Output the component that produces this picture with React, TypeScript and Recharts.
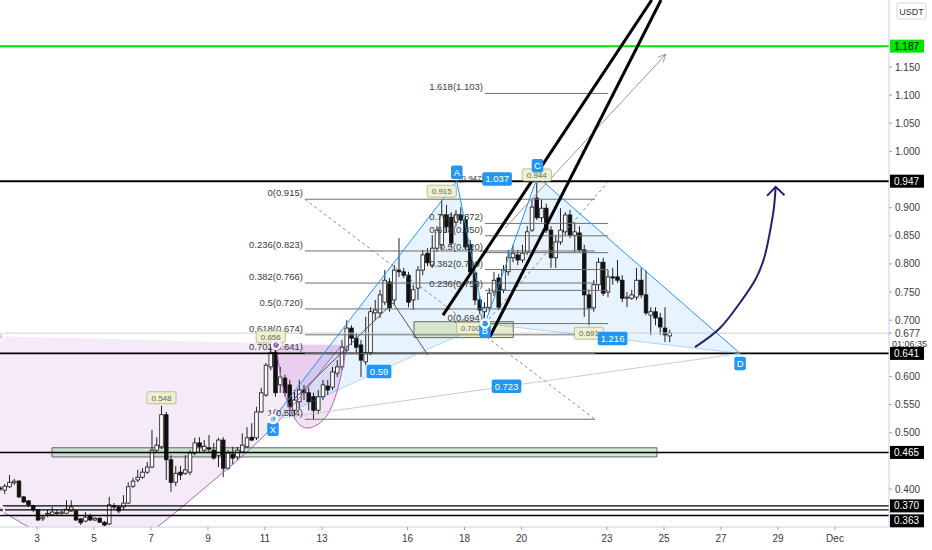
import React from 'react';
import {
  ComposedChart,
  Bar,
  Line,
  Area,
  XAxis,
  YAxis,
  ReferenceLine,
  ReferenceArea,
  ReferenceDot,
} from 'recharts';

const W = 932;
const H = 550;
const FONT = '"Liberation Sans", Arial, sans-serif';
const AXIS = '#c3d1e6';

// visible window (days of November) and price range
const T_MIN = 1.702;
const T_MAX = 32.895;
const P_MIN = 0.3325;
const P_MAX = 1.269;

const dayTicks = [3, 5, 7, 9, 11, 13, 16, 18, 20, 23, 25, 27, 29, 31];
const priceTicks = [0.4, 0.5, 0.55, 0.6, 0.7, 0.75, 0.8, 0.85, 0.9, 1.0, 1.05, 1.1, 1.15];

// 4h candles: [open, high, low, close]
const FIRST_CANDLE = 1.702;
const CANDLE_STEP = 1 / 6;
const candles: number[][] = [
  [0.402, 0.405, 0.396, 0.400], [0.398, 0.409, 0.391, 0.405], [0.404, 0.425, 0.402, 0.412], [0.411, 0.418, 0.407, 0.414],
  [0.414, 0.416, 0.384, 0.386], [0.386, 0.388, 0.375, 0.377], [0.379, 0.380, 0.368, 0.372], [0.370, 0.372, 0.359, 0.363],
  [0.363, 0.364, 0.343, 0.345], [0.347, 0.354, 0.343, 0.350], [0.356, 0.363, 0.350, 0.357], [0.354, 0.368, 0.352, 0.359],
  [0.357, 0.363, 0.352, 0.358], [0.357, 0.361, 0.354, 0.359], [0.357, 0.380, 0.356, 0.364], [0.361, 0.380, 0.359, 0.368],
  [0.361, 0.363, 0.343, 0.345], [0.347, 0.348, 0.336, 0.340], [0.343, 0.359, 0.341, 0.350], [0.352, 0.356, 0.343, 0.345],
  [0.345, 0.350, 0.343, 0.348], [0.348, 0.350, 0.340, 0.341], [0.341, 0.343, 0.334, 0.336], [0.338, 0.386, 0.336, 0.372],
  [0.370, 0.375, 0.364, 0.368], [0.368, 0.370, 0.357, 0.361], [0.368, 0.389, 0.364, 0.375], [0.375, 0.412, 0.373, 0.404],
  [0.405, 0.420, 0.402, 0.414], [0.416, 0.434, 0.412, 0.421], [0.421, 0.437, 0.418, 0.430], [0.430, 0.448, 0.427, 0.439],
  [0.439, 0.505, 0.437, 0.469], [0.469, 0.492, 0.466, 0.478], [0.475, 0.548, 0.471, 0.532], [0.532, 0.537, 0.416, 0.452],
  [0.452, 0.460, 0.395, 0.412], [0.412, 0.441, 0.405, 0.428], [0.430, 0.441, 0.416, 0.425], [0.428, 0.460, 0.425, 0.434],
  [0.430, 0.469, 0.425, 0.464], [0.464, 0.491, 0.460, 0.482], [0.482, 0.492, 0.464, 0.475], [0.469, 0.487, 0.464, 0.476],
  [0.473, 0.496, 0.466, 0.471], [0.469, 0.482, 0.452, 0.455], [0.460, 0.491, 0.439, 0.487], [0.487, 0.492, 0.421, 0.437],
  [0.437, 0.469, 0.434, 0.464], [0.462, 0.475, 0.443, 0.455], [0.457, 0.475, 0.452, 0.469], [0.466, 0.499, 0.464, 0.478],
  [0.475, 0.510, 0.473, 0.491], [0.492, 0.517, 0.485, 0.487], [0.491, 0.546, 0.487, 0.537], [0.537, 0.580, 0.535, 0.571],
  [0.567, 0.624, 0.564, 0.620], [0.617, 0.656, 0.611, 0.643], [0.643, 0.652, 0.564, 0.571], [0.585, 0.617, 0.571, 0.599],
  [0.597, 0.603, 0.564, 0.571], [0.585, 0.594, 0.528, 0.546], [0.540, 0.576, 0.526, 0.558], [0.555, 0.594, 0.540, 0.576],
  [0.576, 0.585, 0.558, 0.571], [0.571, 0.580, 0.540, 0.555], [0.564, 0.571, 0.524, 0.540], [0.540, 0.576, 0.533, 0.564],
  [0.564, 0.594, 0.558, 0.585], [0.583, 0.594, 0.567, 0.576], [0.581, 0.617, 0.576, 0.608], [0.606, 0.629, 0.599, 0.617],
  [0.617, 0.665, 0.611, 0.652], [0.647, 0.700, 0.643, 0.686], [0.686, 0.691, 0.656, 0.668], [0.668, 0.677, 0.643, 0.652],
  [0.656, 0.665, 0.599, 0.629], [0.626, 0.706, 0.620, 0.642], [0.642, 0.723, 0.638, 0.715], [0.713, 0.736, 0.700, 0.718],
  [0.713, 0.754, 0.704, 0.745], [0.732, 0.789, 0.727, 0.771], [0.768, 0.775, 0.715, 0.722], [0.736, 0.798, 0.727, 0.789],
  [0.789, 0.846, 0.777, 0.786], [0.786, 0.793, 0.775, 0.780], [0.780, 0.786, 0.723, 0.732], [0.736, 0.763, 0.718, 0.754],
  [0.757, 0.796, 0.736, 0.789], [0.789, 0.825, 0.780, 0.816], [0.819, 0.828, 0.796, 0.802], [0.798, 0.851, 0.793, 0.828],
  [0.828, 0.867, 0.821, 0.860], [0.834, 0.915, 0.825, 0.887], [0.887, 0.905, 0.857, 0.866], [0.883, 0.892, 0.830, 0.837],
  [0.874, 0.896, 0.867, 0.887], [0.887, 0.901, 0.871, 0.878], [0.878, 0.885, 0.825, 0.830], [0.834, 0.843, 0.779, 0.786],
  [0.784, 0.789, 0.727, 0.736], [0.736, 0.743, 0.711, 0.718], [0.715, 0.732, 0.700, 0.723], [0.723, 0.757, 0.715, 0.748],
  [0.750, 0.786, 0.743, 0.771], [0.775, 0.782, 0.718, 0.723], [0.754, 0.798, 0.748, 0.789], [0.786, 0.825, 0.779, 0.812],
  [0.811, 0.834, 0.803, 0.819], [0.816, 0.825, 0.798, 0.807], [0.807, 0.834, 0.802, 0.819], [0.821, 0.867, 0.816, 0.857],
  [0.860, 0.914, 0.857, 0.901], [0.917, 0.944, 0.878, 0.882], [0.882, 0.914, 0.874, 0.899], [0.899, 0.907, 0.855, 0.860],
  [0.860, 0.867, 0.793, 0.811], [0.811, 0.851, 0.793, 0.839], [0.839, 0.899, 0.834, 0.860], [0.857, 0.892, 0.851, 0.887],
  [0.887, 0.896, 0.846, 0.851], [0.851, 0.874, 0.821, 0.857], [0.855, 0.867, 0.821, 0.825], [0.825, 0.834, 0.706, 0.745],
  [0.745, 0.754, 0.691, 0.722], [0.722, 0.771, 0.715, 0.763], [0.763, 0.811, 0.754, 0.803], [0.803, 0.811, 0.743, 0.748],
  [0.750, 0.789, 0.741, 0.777], [0.777, 0.793, 0.763, 0.775], [0.777, 0.807, 0.766, 0.771], [0.771, 0.780, 0.732, 0.739],
  [0.739, 0.750, 0.723, 0.741], [0.739, 0.754, 0.736, 0.745], [0.741, 0.793, 0.736, 0.771], [0.771, 0.793, 0.739, 0.745],
  [0.745, 0.789, 0.709, 0.713], [0.709, 0.723, 0.674, 0.715], [0.715, 0.723, 0.691, 0.704], [0.704, 0.713, 0.674, 0.688],
  [0.686, 0.723, 0.661, 0.674], [0.672, 0.683, 0.661, 0.677],
];
const LAST_PRICE = 0.677;

// XABCD harmonic pattern
const patternNames = ['X', 'A', 'B', 'C', 'D'];
const patternTimes = [11.28, 17.73, 18.72, 20.56, 27.67];
const patternPrices = [0.524, 0.947, 0.694, 0.955, 0.641];
const patternTagShift = [10, -9, 7, -11, 10];
const ratioLegs = [['X', 'B', '0.59'], ['A', 'C', '1.037'], ['B', 'D', '1.216'], ['X', 'D', '0.723']];

// fibonacci retracements
const fibOneLevels = [0.915, 0.823, 0.766, 0.72, 0.674, 0.641, 0.524];
const fibOneNames = ['0', '0.236', '0.382', '0.5', '0.618', '0.702', '1'];
const fibOneSpan = [12.4, 22.58];
const fibTwoLevels = [1.103, 0.872, 0.85, 0.82, 0.79, 0.753, 0.694];
const fibTwoNames = ['1.618', '0.702', '0.618', '0.5', '0.382', '0.236', '0'];
const fibTwoSpan = [18.72, 23.04];

// horizontal levels
const levelPrices = [1.187, 0.947, 0.641, 0.465, 0.37, 0.363, 0.353];
const levelColors = ['#00e600', '#000', '#000', '#000', '#000', '#000', '#000'];
const levelWidths = [2, 2, 1.6, 1.6, 1.4, 1.4, 1.4];
const axisTagPrices = [1.187, 0.947, 0.641, 0.465, 0.37, 0.363];
const axisTagShift = [0, 0, 0, 0, 0, 11];

// boxes
const zoneStart = [3.526, 16.228];
const zoneEnd = [24.754, 19.712];
const zoneLow = [0.457, 0.669];
const zoneHigh = [0.4733, 0.6973];
const zoneFill = ['rgba(120,200,120,0.35)', 'rgba(190,210,120,0.4)'];

// trend lines
const thickLines = [
  [[17.246, 0.709], [24.57, 1.269]],
  [[18.895, 0.671], [24.895, 1.269]],
];
const thinLines = [
  [[11.877, 0.553], [15.491, 0.731]],
  [[15.491, 0.731], [16.719, 0.638]],
];
const thinArrow = [[19.42, 0.864], [25.07, 1.173]];
const thinArrowHead = [[24.786, 1.167], [25.07, 1.173], [24.968, 1.158]];

// arcs
const bigArcTimes = [1.702, 2.754, 3.807, 5.211, 6.263, 7.07, 8.719, 10.123, 11.175, 12.228, 13.105, 13.702];
const bigArcLows = [0.363, 0.331, 0.309, 0.3, 0.309, 0.327, 0.395, 0.455, 0.505, 0.563, 0.619, 0.656];
const bigArcTops = [0.672, 0.67, 0.669, 0.667, 0.666, 0.665, 0.662, 0.661, 0.659, 0.658, 0.657, 0.656];
const smallArcTimes = [11.386, 11.632, 11.947, 12.333, 12.825, 13.281, 13.632, 13.877];
const smallArcLows = [0.656, 0.581, 0.535, 0.51, 0.514, 0.54, 0.594, 0.656];
const smallArcTops = [0.656, 0.656, 0.656, 0.656, 0.656, 0.656, 0.656, 0.656];

// projected move arrow
const arrowTimes = [26.088, 26.965, 27.667, 28.193, 28.544, 28.754, 28.86, 28.919];
const arrowPrices = [0.652, 0.686, 0.731, 0.771, 0.816, 0.867, 0.901, 0.937];
const arrowHeadTimes = [28.614, 28.919, 29.228];
const arrowHeadPrices = [0.921, 0.937, 0.922];

// high / low price tags (candle index, side)
const priceTagCandles = [34, 57, 93, 113, 102, 124];
const priceTagSide = ['h', 'h', 'h', 'h', 'l', 'l'];
const priceTagNudge = [0, 0, 0, 0, -14, 0];

const candleRows = candles.map(([o, h, l, c], i) => ({
  t: FIRST_CANDLE + i * CANDLE_STEP,
  o, h, l, c,
  range: [l, h],
}));

const pt = (name: string) => {
  const i = patternNames.indexOf(name);
  return { t: patternTimes[i], p: patternPrices[i] };
};
const lineAt = (a: any, b: any, t: number) => a.p + ((b.p - a.p) * (t - a.t)) / (b.t - a.t);
const triangle = (a: any, b: any, c: any) => [
  { t: a.t, r: [a.p, a.p] },
  { t: b.t, r: [lineAt(a, c, b.t), b.p] },
  { t: c.t, r: [c.p, c.p] },
];

const xabArea = triangle(pt('X'), pt('A'), pt('B'));
const bcdArea = triangle(pt('B'), pt('C'), pt('D'));
const bigArcArea = bigArcTimes.map((t, i) => ({ t, r: [bigArcLows[i], bigArcTops[i]], p: bigArcLows[i] }));
const smallArcArea = smallArcTimes.map((t, i) => ({ t, r: [smallArcLows[i], smallArcTops[i]], p: smallArcLows[i] }));
const arrowData = arrowTimes.map((t, i) => ({ t, p: arrowPrices[i] }));
const arrowHeadData = arrowHeadTimes.map((t, i) => ({ t, p: arrowHeadPrices[i] }));
const thinHeadData = thinArrowHead.map(([t, p]) => ({ t, p }));

const Candle = (props: any) => {
  const { x, y, width, height, payload } = props;
  if (!payload) return null;
  const { o, h, l, c } = payload;
  const top = Math.min(y, y + height);
  const bot = Math.max(y, y + height);
  const ppu = (bot - top) / (h - l || 1);
  const yo = top + (h - o) * ppu;
  const yc = top + (h - c) * ppu;
  const cx = x + width / 2;
  const up = c >= o;
  const bt = Math.min(yo, yc);
  const bh = Math.max(1, Math.abs(yo - yc));
  return (
    <g>
      <line x1={cx} x2={cx} y1={top} y2={bot} stroke="#222" strokeWidth={1} />
      <rect x={cx - 1.8} y={bt} width={3.6} height={bh} fill={up ? '#fff' : '#111'} stroke="#111" strokeWidth={0.8} />
    </g>
  );
};

const Tag = ({ cx, cy, text, bg, fg, fs = 10, border, k = 0.58, pad = 6 }: any) => {
  const w = text.length * fs * k + pad;
  const h = fs + 4;
  return (
    <g>
      <rect x={cx - w / 2} y={cy - h / 2} width={w} height={h} rx={2} fill={bg} stroke={border || 'none'} strokeWidth={0.8} />
      <text x={cx} y={cy + fs * 0.36} textAnchor="middle" fontSize={fs} fill={fg} fontFamily={FONT}>
        {text}
      </text>
    </g>
  );
};

const seg = (a: number[], b: number[]) => [{ x: a[0], y: a[1] }, { x: b[0], y: b[1] }];

export default function App() {
  const tick = { fontSize: 10, fill: '#3a3a3a', fontFamily: FONT };
  return (
    <div style={{ width: W, height: H, background: '#fff' }}>
      <style>{'body{margin:0}'}</style>
      <ComposedChart width={W} height={H} data={candleRows} margin={{ top: 0, right: 0, bottom: 0, left: 0 }} style={{ fontFamily: FONT }}>
        <XAxis
          type="number"
          dataKey="t"
          domain={[T_MIN, T_MAX]}
          allowDataOverflow
          ticks={dayTicks}
          interval={0}
          tickFormatter={(d: number) => (d === 31 ? 'Dec' : String(d))}
          height={23}
          axisLine={{ stroke: AXIS }}
          tickLine={{ stroke: '#9aa6b8' }}
          tickSize={3}
          tickMargin={5}
          tick={tick}
        />
        <YAxis
          orientation="right"
          type="number"
          domain={[P_MIN, P_MAX]}
          allowDataOverflow
          ticks={priceTicks}
          interval={0}
          tickFormatter={(v: number) => v.toFixed(3)}
          width={43}
          axisLine={{ stroke: AXIS }}
          tickLine={{ stroke: '#9aa6b8' }}
          tickSize={3}
          tickMargin={3}
          tick={tick}
        />

        {/* pink arcs */}
        <Area data={bigArcArea} dataKey="r" type="natural" fill="rgba(156,39,176,0.16)" stroke="none" isAnimationActive={false} legendType="none" />
        <Line data={bigArcArea} dataKey="p" type="natural" stroke="#b25cc4" strokeWidth={1} dot={false} activeDot={false} isAnimationActive={false} legendType="none" />
        <Area data={smallArcArea} dataKey="r" type="natural" fill="rgba(156,39,176,0.22)" stroke="none" isAnimationActive={false} legendType="none" />
        <Line data={smallArcArea} dataKey="p" type="natural" stroke="#b25cc4" strokeWidth={1} dot={false} activeDot={false} isAnimationActive={false} legendType="none" />

        {/* harmonic triangles */}
        <Area data={xabArea} dataKey="r" type="linear" fill="rgba(33,150,243,0.18)" stroke="none" isAnimationActive={false} legendType="none" />
        <Area data={bcdArea} dataKey="r" type="linear" fill="rgba(33,150,243,0.18)" stroke="none" isAnimationActive={false} legendType="none" />

        {/* zones */}
        {zoneStart.map((x1, i) => (
          <ReferenceArea key={'z' + i} x1={x1} x2={zoneEnd[i]} y1={zoneLow[i]} y2={zoneHigh[i]} fill={zoneFill[i]} fillOpacity={1} stroke="#666" strokeWidth={1} />
        ))}

        {/* horizontal levels */}
        {levelPrices.map((p, i) => (
          <ReferenceLine key={'lv' + i} y={p} stroke={levelColors[i]} strokeWidth={levelWidths[i]} />
        ))}
        <ReferenceLine y={LAST_PRICE} stroke="#cfcfcf" strokeWidth={1} />

        {/* fib retracements */}
        {fibOneLevels.map((lv, i) => (
          <ReferenceLine key={'f1' + i} segment={[{ x: fibOneSpan[0], y: lv }, { x: fibOneSpan[1], y: lv }]} stroke="#6f6f6f" strokeWidth={1} />
        ))}
        {fibTwoLevels.map((lv, i) => (
          <ReferenceLine key={'f2' + i} segment={[{ x: fibTwoSpan[0], y: lv }, { x: fibTwoSpan[1], y: lv }]} stroke="#6f6f6f" strokeWidth={1} />
        ))}
        <ReferenceLine segment={[{ x: fibOneSpan[0], y: fibOneLevels[0] }, { x: fibOneSpan[1], y: fibOneLevels[6] }]} stroke="#888" strokeDasharray="3 3" />
        <ReferenceLine segment={[{ x: fibTwoSpan[0], y: 0.694 }, { x: fibTwoSpan[1], y: 0.946 }]} stroke="#888" strokeDasharray="3 3" />

        {/* pattern legs */}
        <ReferenceLine segment={seg([pt('X').t, pt('X').p], [pt('D').t, pt('D').p])} stroke="#c6ccd6" strokeWidth={1} />
        <ReferenceLine segment={seg([pt('X').t, pt('X').p], [pt('B').t, pt('B').p])} stroke="rgba(33,150,243,0.35)" strokeWidth={1} />
        <ReferenceLine segment={seg([pt('B').t, pt('B').p], [pt('D').t, pt('D').p])} stroke="rgba(33,150,243,0.35)" strokeWidth={1} />
        {['XA', 'AB', 'BC', 'CD'].map((leg) => (
          <ReferenceLine key={leg} segment={seg([pt(leg[0]).t, pt(leg[0]).p], [pt(leg[1]).t, pt(leg[1]).p])} stroke="#2196f3" strokeWidth={1} />
        ))}

        {/* candles */}
        <Bar dataKey="range" barSize={3} shape={<Candle />} isAnimationActive={false} legendType="none" />

        {/* trend lines */}
        {thinLines.map((l, i) => (
          <ReferenceLine key={'tl' + i} segment={seg(l[0], l[1])} stroke="#555" strokeWidth={1} />
        ))}
        <ReferenceLine segment={seg(thinArrow[0], thinArrow[1])} stroke="#999" strokeWidth={1} />
        <Line data={thinHeadData} dataKey="p" type="linear" stroke="#999" strokeWidth={1} dot={false} activeDot={false} isAnimationActive={false} legendType="none" />
        {thickLines.map((l, i) => (
          <ReferenceLine key={'th' + i} segment={seg(l[0], l[1])} stroke="#000" strokeWidth={3} />
        ))}

        {/* projected move */}
        <Line data={arrowData} dataKey="p" type="natural" stroke="#2a1f6b" strokeWidth={2} dot={false} activeDot={false} isAnimationActive={false} legendType="none" />
        <Line data={arrowHeadData} dataKey="p" type="linear" stroke="#2a1f6b" strokeWidth={2} dot={false} activeDot={false} isAnimationActive={false} legendType="none" />

        {/* fib labels */}
        {fibOneLevels.map((lv, i) => (
          <ReferenceDot key={'f1l' + i} x={fibOneSpan[0]} y={lv} shape={(p: any) => (
            <text x={p.cx - 2} y={p.cy - 3} textAnchor="end" fontSize={9.5} fill="#3c3c3c" fontFamily={FONT}>{`${fibOneNames[i]}(${lv.toFixed(3)})`}</text>
          )} />
        ))}
        {fibTwoLevels.map((lv, i) => (
          <ReferenceDot key={'f2l' + i} x={fibTwoSpan[0]} y={lv} shape={(p: any) => (
            <text x={p.cx - 2} y={p.cy - 3} textAnchor="end" fontSize={9.5} fill="#3c3c3c" fontFamily={FONT}>{`${fibTwoNames[i]}(${lv.toFixed(3)})`}</text>
          )} />
        ))}

        {/* high / low tags */}
        {priceTagCandles.map((ci, i) => {
          const row = candleRows[ci];
          const v = priceTagSide[i] === 'h' ? row.h : row.l;
          return (
            <ReferenceDot key={'pt' + i} x={row.t} y={v} shape={(p: any) => (
              <Tag cx={p.cx + priceTagNudge[i]} cy={p.cy + (priceTagSide[i] === 'h' ? -8 : 8)} text={v.toFixed(3)} bg="#eef0cf" fg="#666" fs={priceTagNudge[i] ? 7.5 : 8} border="#b4b07a" />
            )} />
          );
        })}

        {/* pattern point tags */}
        <ReferenceDot x={pt('A').t} y={pt('A').p} shape={(p: any) => (
          <text x={p.cx + 2} y={p.cy} fontSize={8} fill="#333" fontFamily={FONT}>(0.947)</text>
        )} />
        {patternNames.map((n, i) => (
          <ReferenceDot key={'pn' + n} x={patternTimes[i]} y={patternPrices[i]} shape={(p: any) => (
            <Tag cx={p.cx} cy={p.cy + patternTagShift[i]} text={n} bg="#2196f3" fg="#fff" fs={9.5} />
          )} />
        ))}
        {ratioLegs.map(([a, b, txt]) => {
          const m = { t: (pt(a).t + pt(b).t) / 2, p: (pt(a).p + pt(b).p) / 2 };
          return (
            <ReferenceDot key={'r' + a + b} x={m.t} y={m.p} shape={(p: any) => (
              <Tag cx={p.cx} cy={p.cy} text={txt} bg="#2196f3" fg="#fff" fs={9.5} k={0.52} pad={5} />
            )} />
          );
        })}

        {/* right axis tags */}
        <ReferenceDot x={T_MAX} y={LAST_PRICE} shape={(p: any) => (
          <g>
            <line x1={p.cx} x2={p.cx + 3} y1={p.cy} y2={p.cy} stroke="#9aa6b8" />
            <text x={p.cx + 6} y={p.cy + 3.5} fontSize={10} fill="#3a3a3a" fontFamily={FONT}>{LAST_PRICE.toFixed(3)}</text>
            <text x={p.cx + 3} y={p.cy + 14} fontSize={9} fill="#3a3a3a" fontFamily={FONT}>01:06:35</text>
          </g>
        )} />
        {axisTagPrices.map((v, i) => (
          <ReferenceDot key={'at' + i} x={T_MAX} y={v} shape={(p: any) => (
            <g>
              <rect x={p.cx + 1} y={p.cy + axisTagShift[i] - 6.5} width={34} height={13} fill={i === 0 ? '#00e600' : '#000'} />
              <text x={p.cx + 5} y={p.cy + axisTagShift[i] + 3.5} fontSize={10} fill={i === 0 ? '#000' : '#fff'} fontFamily={FONT}>{v.toFixed(3)}</text>
            </g>
          )} />
        ))}
        <ReferenceDot x={T_MAX} y={P_MAX} shape={(p: any) => (
          <g>
            <rect x={p.cx + 8} y={p.cy + 3} width={29} height={16} fill="#fff" stroke="#d6d6d6" rx={2} />
            <text x={p.cx + 22.5} y={p.cy + 14.5} textAnchor="middle" fontSize={9} fill="#333" fontFamily={FONT}>USDT</text>
          </g>
        )} />
      </ComposedChart>
    </div>
  );
}
